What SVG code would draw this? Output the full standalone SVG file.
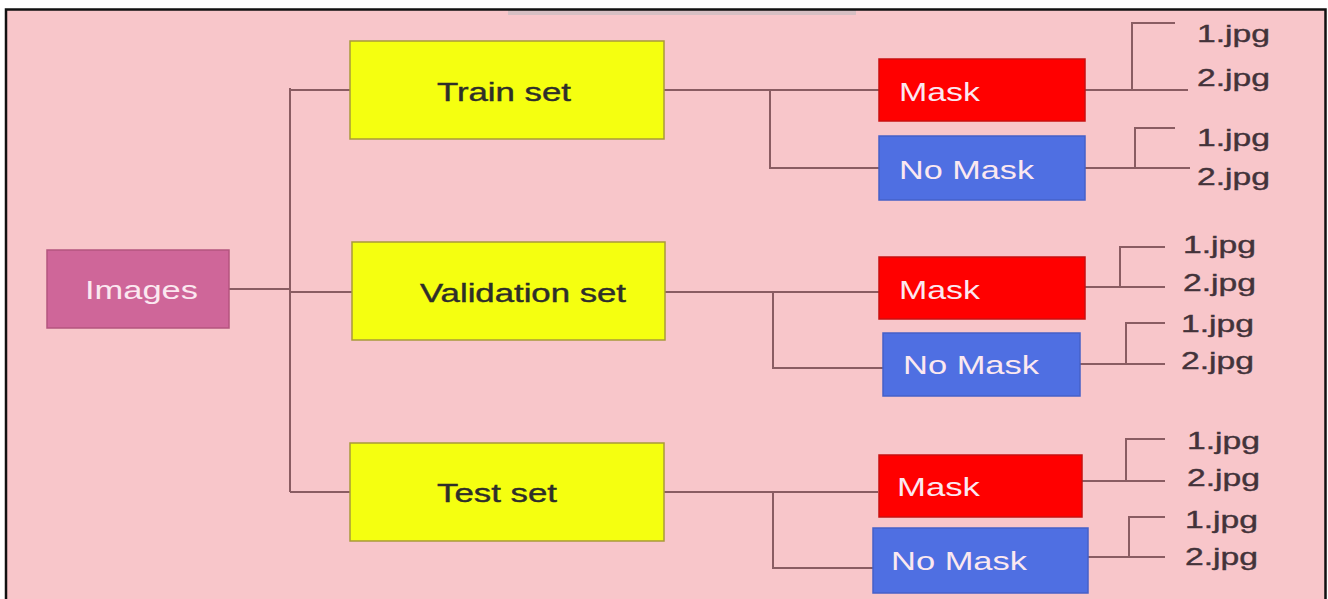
<svg xmlns="http://www.w3.org/2000/svg" width="1328" height="599" viewBox="0 0 1328 599">
<style>
.bg{fill:#f8c6ca}
.set{fill:#f5ff10;stroke:#a89a3a;stroke-width:1.5}
.mask{fill:#ff0000;stroke:#c81010;stroke-width:1.5}
.nomask{fill:#4f6fe2;stroke:#4560c8;stroke-width:1.5}
.img{fill:#cf6699;stroke:#b4557f;stroke-width:1.5}
.t{font-family:"Liberation Sans",Arial,sans-serif;font-size:25px}
.dark{fill:#2e2e2a;stroke:#2e2e2a;stroke-width:0.4}
.light{fill:#fbe8f0}
.jpg{font-family:"Liberation Sans",Arial,sans-serif;font-size:24px;fill:#43333a;stroke:#43333a;stroke-width:0.4}
.c{fill:none;stroke:#8a5c62;stroke-width:2}
</style>
<rect x="0" y="0" width="1328" height="599" fill="#ffffff"/>
<rect class="bg" x="7" y="10" width="1318" height="589"/>
<rect x="508" y="10" width="348" height="5" fill="#d6bfc3"/>
<path d="M6,599 V9.5 H1325.5 V599" fill="none" stroke="#111111" stroke-width="2.5"/>

<g id="connectors">
<path class="c" d="M229,289 H290 M290,88 V492 M290,90 H350 M290,292 H352 M290,492 H350"/>
<path class="c" d="M664,90 H879 M770,90 V168 H879"/>
<path class="c" d="M665,292 H879 M773,292 V368 H883"/>
<path class="c" d="M664,492 H878 M773,492 V568 H873"/>
<path class="c" d="M1085,90 H1188 M1132,90 V23 H1175"/>
<path class="c" d="M1085,168 H1190 M1135,168 V128 H1175"/>
<path class="c" d="M1085,287 H1165 M1120,287 V247 H1165"/>
<path class="c" d="M1080,364 H1165 M1126,364 V323 H1165"/>
<path class="c" d="M1082,481 H1165 M1126,481 V439 H1165"/>
<path class="c" d="M1088,557 H1165 M1129,557 V517 H1165"/>
</g>

<g id="images">
<rect class="img" x="47" y="250" width="182" height="78"/>
<text class="t light" x="85" y="299" textLength="113" lengthAdjust="spacingAndGlyphs">Images</text>
</g>

<g id="train-set">
<rect class="set" x="350" y="41" width="314" height="98"/>
<text class="t dark" x="437" y="101" textLength="134" lengthAdjust="spacingAndGlyphs">Train set</text>
</g>
<g id="validation-set">
<rect class="set" x="352" y="242" width="313" height="98"/>
<text class="t dark" x="420" y="302" textLength="206" lengthAdjust="spacingAndGlyphs">Validation set</text>
</g>
<g id="test-set">
<rect class="set" x="350" y="443" width="314" height="98"/>
<text class="t dark" x="437" y="502" textLength="120" lengthAdjust="spacingAndGlyphs">Test set</text>
</g>

<g id="train-mask">
<rect class="mask" x="879" y="59" width="206" height="62"/>
<text class="t light" x="899" y="101" textLength="81" lengthAdjust="spacingAndGlyphs">Mask</text>
</g>
<g id="train-nomask">
<rect class="nomask" x="879" y="136" width="206" height="64"/>
<text class="t light" x="899" y="179" textLength="135" lengthAdjust="spacingAndGlyphs">No Mask</text>
</g>
<g id="val-mask">
<rect class="mask" x="879" y="257" width="206" height="62"/>
<text class="t light" x="899" y="299" textLength="81" lengthAdjust="spacingAndGlyphs">Mask</text>
</g>
<g id="val-nomask">
<rect class="nomask" x="883" y="333" width="197" height="63"/>
<text class="t light" x="903" y="374" textLength="136" lengthAdjust="spacingAndGlyphs">No Mask</text>
</g>
<g id="test-mask">
<rect class="mask" x="879" y="455" width="203" height="62"/>
<text class="t light" x="897" y="496" textLength="83" lengthAdjust="spacingAndGlyphs">Mask</text>
</g>
<g id="test-nomask">
<rect class="nomask" x="873" y="528" width="215" height="65"/>
<text class="t light" x="891" y="570" textLength="136" lengthAdjust="spacingAndGlyphs">No Mask</text>
</g>

<g id="files">
<text class="jpg" x="1197" y="42" textLength="73" lengthAdjust="spacingAndGlyphs">1.jpg</text>
<text class="jpg" x="1197" y="86" textLength="73" lengthAdjust="spacingAndGlyphs">2.jpg</text>
<text class="jpg" x="1197" y="146" textLength="73" lengthAdjust="spacingAndGlyphs">1.jpg</text>
<text class="jpg" x="1197" y="185" textLength="73" lengthAdjust="spacingAndGlyphs">2.jpg</text>
<text class="jpg" x="1183" y="253" textLength="73" lengthAdjust="spacingAndGlyphs">1.jpg</text>
<text class="jpg" x="1183" y="291" textLength="73" lengthAdjust="spacingAndGlyphs">2.jpg</text>
<text class="jpg" x="1181" y="332" textLength="73" lengthAdjust="spacingAndGlyphs">1.jpg</text>
<text class="jpg" x="1181" y="369" textLength="73" lengthAdjust="spacingAndGlyphs">2.jpg</text>
<text class="jpg" x="1187" y="449" textLength="73" lengthAdjust="spacingAndGlyphs">1.jpg</text>
<text class="jpg" x="1187" y="486" textLength="73" lengthAdjust="spacingAndGlyphs">2.jpg</text>
<text class="jpg" x="1185" y="528" textLength="73" lengthAdjust="spacingAndGlyphs">1.jpg</text>
<text class="jpg" x="1185" y="565" textLength="73" lengthAdjust="spacingAndGlyphs">2.jpg</text>
</g>
</svg>
